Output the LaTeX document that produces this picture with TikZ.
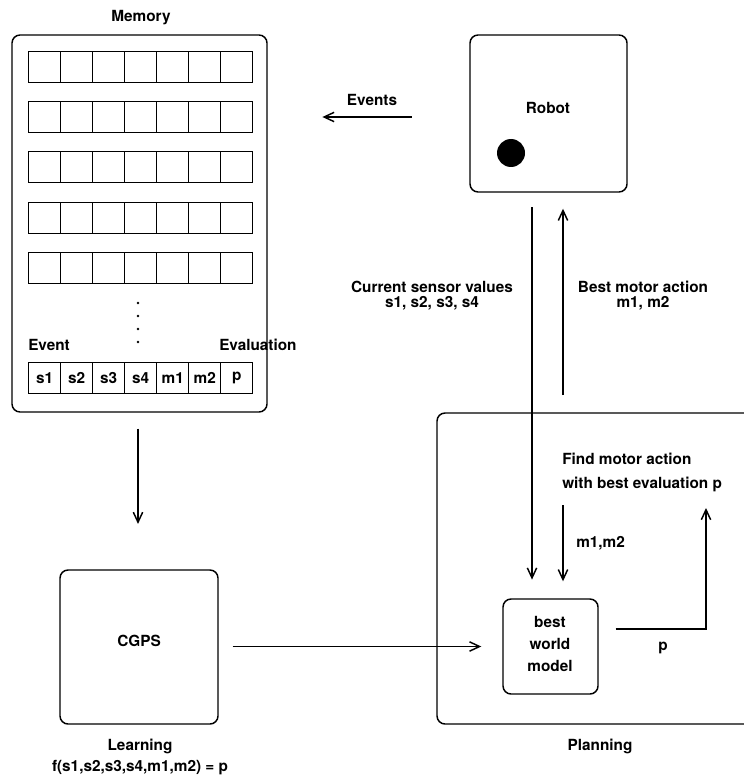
\documentclass[tikz,border=0pt]{standalone}
\usepackage{fontspec}
\setmainfont{TeX Gyre Heros}
\usetikzlibrary{arrows.meta,positioning,fit,calc}

\begin{document}
\begin{tikzpicture}[
    x=0.75pt, y=-0.75pt,
    >={Straight Barb[length=7.5pt,width=7pt]},
    every node/.style={font=\fontsize{11.5}{11.5}\selectfont\bfseries},
    box/.style={draw, line width=1.1pt, rounded corners=6pt, inner sep=0pt},
    cell/.style={draw, line width=1.1pt, minimum width=24pt, minimum height=23pt, inner sep=0pt, anchor=north west},
    conn/.style={line width=1.1pt}
]
    \useasboundingbox (0,0) rectangle (743,781);

    % Memory
    \node[box, fit={(12,35) (267,412)}] (memory) {};
    \node (memory-label) at (141,18) {Memory};
    \foreach \r/\y in {1/51,2/101,3/151,4/202,5/252}
        \foreach \c in {0,...,6}
            \node[cell] (cell-\r-\c) at ({28+32*\c},\y) {};
    \foreach \y in {303,316,329,342}
        \fill (138,\y) circle (1.3);
    \node[anchor=west, inner xsep=0pt] (event-label) at (28,345) {Event};
    \node[anchor=west, inner xsep=0pt] (eval-label) at (219,345) {Evaluation};
    \foreach \t [count=\c from 0] in {s1,s2,s3,s4,m1,m2,p}
        \node[cell] (ev-\c) at ({28+32*\c},362) {\t};

    % Robot
    \node[box, fit={(470,35) (627,192)}] (robot) {};
    \node (robot-label) at (548,108) {Robot};
    \fill (511,153) circle (14);

    % Events
    \draw[conn, ->, shorten <=43pt, shorten >=41pt] (robot.west |- 0,117) -- (memory.east |- 0,117);
    \node (events-label) at (372,100) {Events};

    % Learning
    \node[box, fit={(60,570) (218,724)}] (cgps) {CGPS};
    \node[align=center] (learning-label) at (140,757) {Learning\\[4.25pt]f(s1,s2,s3,s4,m1,m2) = p};
    \draw[conn, ->, shorten <=12pt, shorten >=34pt] (memory.south -| 138,0) -- (cgps.north -| 138,0);

    % Planning
    \draw[conn, rounded corners=6pt] (748,413) -- (437,413) -- (437,724) -- (748,724);
    \coordinate (plan-top) at (563,413);
    \node (planning-label) at (600,746) {Planning};
    \node[box, fit={(503,599) (598,694)}] (bwm) {};
    \node[align=center] (bwm-label) at (550,644) {best\\[5pt]world\\[5pt]model};
    \node[anchor=west, inner xsep=0pt, align=left] (find-label) at (562,472) {Find motor action\\[6.5pt]with best evaluation p};

    % Sensor values and motor action
    \draw[conn, ->, shorten <=11pt, shorten >=14pt] (robot.south -| 532,0) -- (bwm.north -| 532,0);
    \draw[conn, ->, shorten <=13.5pt, shorten >=12pt] (plan-top) -- (robot.south -| plan-top);
    \node[align=center] (sensor-label) at (432,295.5) {Current sensor values\\s1, s2, s3, s4};
    \node[align=center] (action-label) at (643,295.5) {Best motor action\\m1, m2};

    % Inside planning
    \coordinate (motor-start) at (563,505);
    \draw[conn, ->, shorten >=12.75pt] (motor-start) -- (bwm.north -| motor-start);
    \node[anchor=west, inner xsep=0pt] (motor-label) at (576,543) {m1,m2};
    \coordinate (p-end) at (706,508);
    \draw[conn, ->, shorten <=12.75pt] (bwm.east |- 0,629) -| (p-end);
    \node (p-label) at (663,648) {p};
    \draw[conn, ->, shorten <=10.5pt, shorten >=15.75pt] (cgps.east |- bwm.west) -- (bwm.west);
\end{tikzpicture}
\end{document}
